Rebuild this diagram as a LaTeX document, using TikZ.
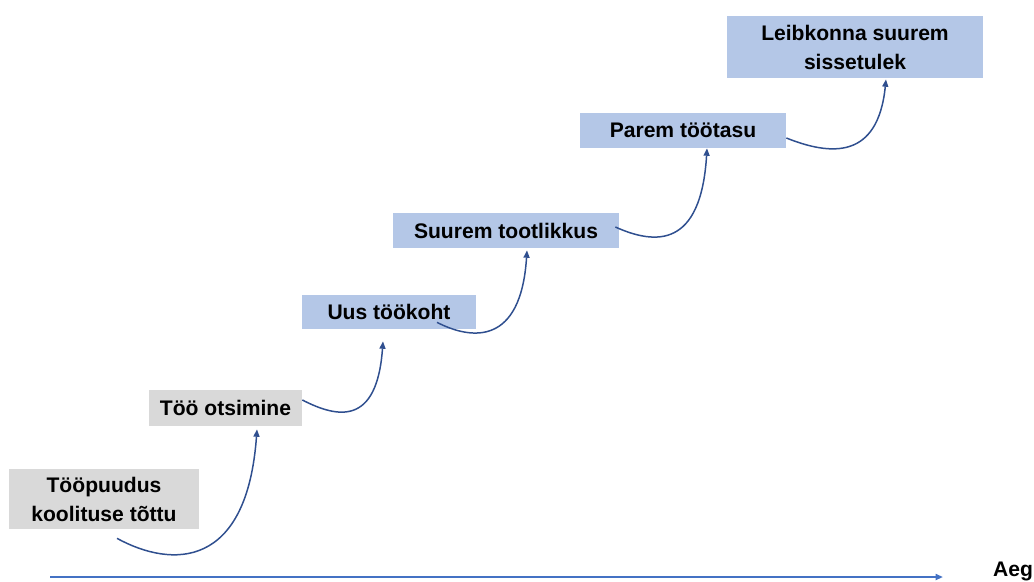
\documentclass[tikz,border=0pt]{standalone}
\usepackage{fontspec}
\setmainfont{Liberation Sans}
\usetikzlibrary{arrows.meta}
\definecolor{stepgray}{HTML}{D9D9D9}
\definecolor{stepblue}{HTML}{B4C7E7}
\definecolor{linkblue}{HTML}{2F4F8F}
\definecolor{axisblue}{HTML}{4472C4}

\begin{document}
\begin{tikzpicture}[>={Triangle[length=4.2pt,width=3.4pt]},
		stepbox/.style={align=center, inner sep=0pt, font=\bfseries\fontsize{12}{16.5}\selectfont},
		graystep/.style={stepbox, fill=stepgray},
		bluestep/.style={stepbox, fill=stepblue},
		link/.style={->, draw=linkblue, line width=0.85pt},
		timeline/.style={->, draw=axisblue, line width=1.1pt},
	]
			\useasboundingbox (0, 0) rectangle (20.68, 11.62);

			\node[graystep, minimum width=3.8cm,  minimum height=1.2cm]  at (2.08,  1.64) (idle)    {Tööpuudus\\koolituse tõttu};
			\node[graystep, minimum width=3.06cm, minimum height=0.72cm] at (4.51,  3.46) (search)  {Töö otsimine};
			\node[bluestep, minimum width=3.48cm, minimum height=0.68cm] at (7.78,  5.38) (newjob)  {Uus töökoht};
			\node[bluestep, minimum width=4.52cm, minimum height=0.70cm] at (10.12, 7.01) (output)  {Suurem tootlikkus};
			\node[bluestep, minimum width=4.12cm, minimum height=0.70cm] at (13.66, 9.01) (wage)    {Parem töötasu};
			\node[bluestep, minimum width=5.12cm, minimum height=1.24cm] at (17.10, 10.68) (income) {Leibkonna suurem\\sissetulek};

			% time axis
			\coordinate (t0) at (1.00, 0.08);
			\coordinate (t1) at (18.86, 0.08);
			\node[anchor=base, font=\bfseries\fontsize{12}{14}\selectfont] at (20.26, 0.10) (time) {Aeg};
			\draw[timeline] (t0) -- (t1);

			% steps
			\draw[link] ([shift={(0.26, -0.18)}]idle.south)
					.. controls +(1.1, -0.6) and +(-0.2, -2.8) .. ([shift={(0.63, -0.06)}]search.south);
			\draw[link] ([shift={(0, 0.16)}]search.east)
					.. controls +(0.7, -0.36) and +(-0.12, -1.7) .. ([shift={(-0.12, -0.24)}]newjob.south);
			\draw[link] ([shift={(0.96, 0.14)}]newjob.south)
					.. controls +(0.7, -0.36) and +(-0.12, -1.9) .. ([shift={(0.42, -0.04)}]output.south);
			\draw[link] ([shift={(-0.08, 0.07)}]output.east)
					.. controls +(0.8, -0.36) and +(-0.12, -2.0) .. ([shift={(0.48, 0)}]wage.south);
			\draw[link] ([shift={(0, -0.15)}]wage.east)
					.. controls +(0.9, -0.36) and +(-0.16, -1.6) .. ([shift={(0.62, -0.02)}]income.south);

\end{tikzpicture}
\end{document}
